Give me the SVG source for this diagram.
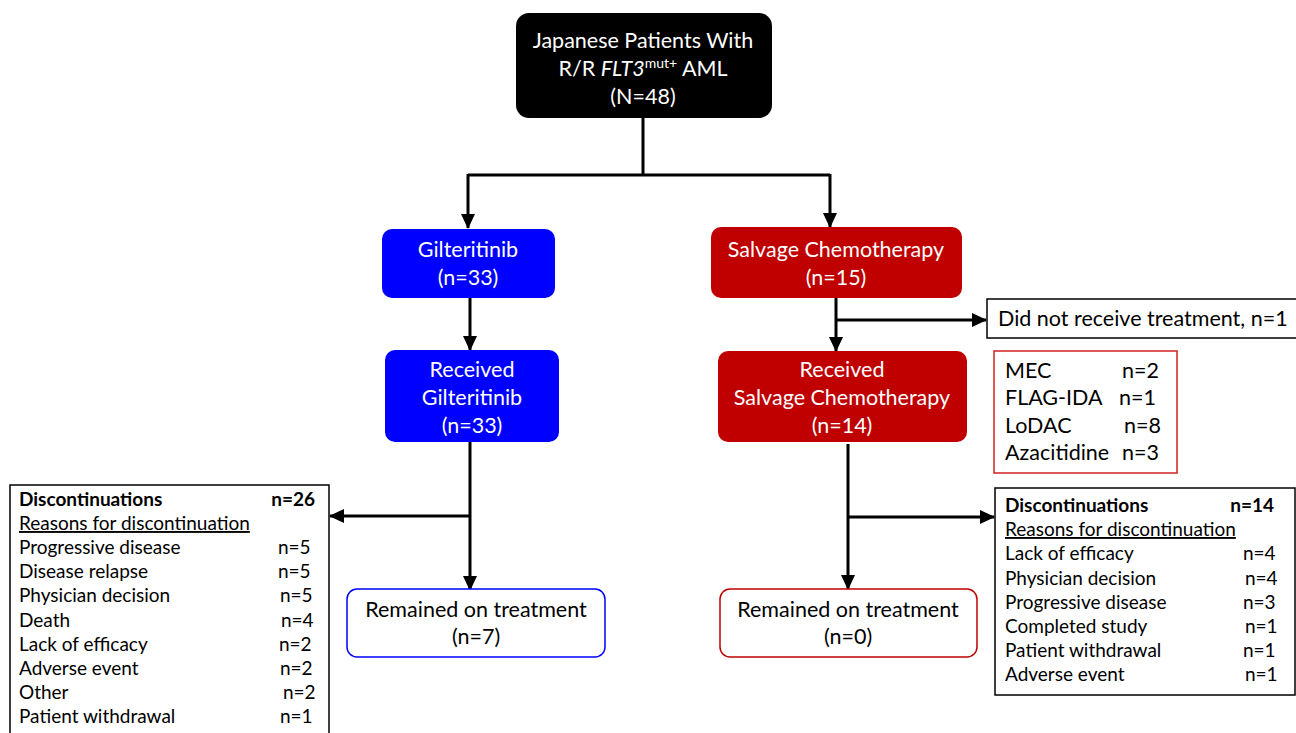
<svg xmlns="http://www.w3.org/2000/svg" width="1296" height="733" viewBox="0 0 1296 733">
<defs>
<marker id="ah" markerUnits="userSpaceOnUse" markerWidth="16" markerHeight="16" viewBox="0 0 16 16" refX="14" refY="8" orient="auto">
<path d="M0,1 L15,8 L0,15 Z" fill="#000"/>
</marker>
<style>
text{font-family:Lato,"Open Sans","Liberation Sans",sans-serif;font-size:21.5px;fill:#000}
.w{fill:#fff;text-anchor:middle}
.c{text-anchor:middle}
.s{font-size:19px}
.b{font-weight:bold}
.e{text-anchor:end}
.ln{stroke:#000;stroke-width:3;fill:none}
.ar{stroke:#000;stroke-width:3;fill:none;marker-end:url(#ah)}
</style>
</defs>
<rect width="1296" height="733" fill="#fff"/>

<g id="connectors">
<path class="ln" d="M643,118 V175 M468,175 H830"/>
<path class="ar" d="M468,174 V228"/>
<path class="ar" d="M830,174 V227"/>
<path class="ar" d="M470,298 V350"/>
<path class="ar" d="M836,298 V351"/>
<path class="ar" d="M836,320 H986"/>
<path class="ar" d="M470,442 V590"/>
<path class="ar" d="M470,516 H330"/>
<path class="ar" d="M848,444 V589"/>
<path class="ar" d="M848,517 H994"/>
</g>

<g id="start">
<rect x="516" y="13" width="256" height="105" rx="13" fill="#000"/>
<text class="w" x="643" y="48">Japanese Patients With</text>
<text class="w" x="643" y="76">R/R <tspan font-style="italic">FLT3</tspan><tspan font-size="14" dy="-8">mut+</tspan><tspan dy="8"> AML</tspan></text>
<text class="w" x="643" y="104">(N=48)</text>
</g>

<g id="gilteritinib">
<rect x="382" y="229" width="173" height="69" rx="10" fill="#0000FF"/>
<text class="w" x="468" y="257">Gilteritinib</text>
<text class="w" x="468" y="285">(n=33)</text>
</g>

<g id="salvage">
<rect x="711" y="227" width="251" height="71" rx="10" fill="#C00000"/>
<text class="w" x="836" y="257">Salvage Chemotherapy</text>
<text class="w" x="836" y="285">(n=15)</text>
</g>

<g id="no-treatment">
<rect x="987" y="299" width="312" height="39" fill="#fff" stroke="#000" stroke-width="1.5"/>
<text x="998" y="326">Did not receive treatment, n=1</text>
</g>

<g id="received-gilteritinib">
<rect x="385" y="350" width="174" height="92" rx="10" fill="#0000FF"/>
<text class="w" x="472" y="377">Received</text>
<text class="w" x="472" y="405">Gilteritinib</text>
<text class="w" x="472" y="433">(n=33)</text>
</g>

<g id="received-salvage">
<rect x="718" y="351" width="249" height="91" rx="10" fill="#C00000"/>
<text class="w" x="842" y="377">Received</text>
<text class="w" x="842" y="405">Salvage Chemotherapy</text>
<text class="w" x="842" y="433">(n=14)</text>
</g>

<g id="regimens">
<rect x="994" y="351" width="183" height="122" fill="#fff" stroke="#D42020" stroke-width="1.5"/>
<text x="1005" y="378">MEC</text><text x="1122" y="378">n=2</text>
<text x="1005" y="405">FLAG-IDA</text><text x="1119" y="405">n=1</text>
<text x="1005" y="433">LoDAC</text><text x="1124" y="433">n=8</text>
<text x="1005" y="460">Azacitidine</text><text x="1122" y="460">n=3</text>
</g>

<g id="disc-left">
<rect x="10" y="485" width="319" height="252" fill="#fff" stroke="#000" stroke-width="1.5"/>
<text class="s b" x="19" y="506">Discontinuations</text><text class="s b e" x="315" y="506">n=26</text>
<text class="s" x="19" y="530" text-decoration="underline">Reasons for discontinuation</text>
<text class="s" x="19" y="554">Progressive disease</text><text class="s" x="278" y="554">n=5</text>
<text class="s" x="19" y="578">Disease relapse</text><text class="s" x="278" y="578">n=5</text>
<text class="s" x="19" y="602">Physician decision</text><text class="s" x="280" y="602">n=5</text>
<text class="s" x="19" y="627">Death</text><text class="s" x="281" y="627">n=4</text>
<text class="s" x="19" y="651">Lack of efficacy</text><text class="s" x="279" y="651">n=2</text>
<text class="s" x="19" y="675">Adverse event</text><text class="s" x="280" y="675">n=2</text>
<text class="s" x="19" y="699">Other</text><text class="s" x="283" y="699">n=2</text>
<text class="s" x="19" y="723">Patient withdrawal</text><text class="s" x="280" y="723">n=1</text>
</g>

<g id="remained-left">
<rect x="347" y="589" width="258" height="68" rx="10" fill="#fff" stroke="#0000FF" stroke-width="1.5"/>
<text class="c" x="476" y="617">Remained on treatment</text>
<text class="c" x="476" y="644">(n=7)</text>
</g>

<g id="remained-right">
<rect x="720" y="589" width="257" height="68" rx="10" fill="#fff" stroke="#C00000" stroke-width="1.5"/>
<text class="c" x="848" y="617">Remained on treatment</text>
<text class="c" x="848" y="644">(n=0)</text>
</g>

<g id="disc-right">
<rect x="995" y="488" width="300" height="207" fill="#fff" stroke="#000" stroke-width="1.5"/>
<text class="s b" x="1005" y="512">Discontinuations</text><text class="s b e" x="1274" y="512">n=14</text>
<text class="s" x="1005" y="536" text-decoration="underline">Reasons for discontinuation</text>
<text class="s" x="1005" y="560">Lack of efficacy</text><text class="s" x="1243" y="560">n=4</text>
<text class="s" x="1005" y="585">Physician decision</text><text class="s" x="1245" y="585">n=4</text>
<text class="s" x="1005" y="609">Progressive disease</text><text class="s" x="1243" y="609">n=3</text>
<text class="s" x="1005" y="633">Completed study</text><text class="s" x="1245" y="633">n=1</text>
<text class="s" x="1005" y="657">Patient withdrawal</text><text class="s" x="1243" y="657">n=1</text>
<text class="s" x="1005" y="681">Adverse event</text><text class="s" x="1245" y="681">n=1</text>
</g>
</svg>
